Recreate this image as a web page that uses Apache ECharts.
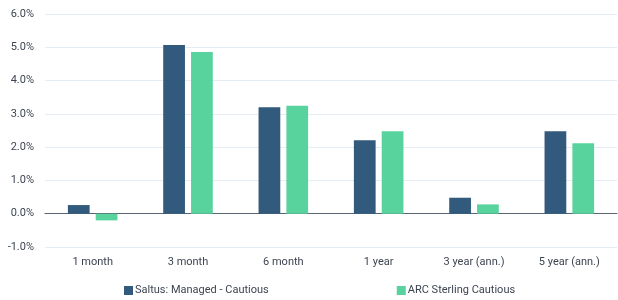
<!DOCTYPE html>
<html>
<head>
<meta charset="utf-8">
<script src="https://cdn.jsdelivr.net/npm/echarts@6/dist/echarts.min.js"></script>
<style>
  html, body { margin: 0; padding: 0; background: #fff; }
  #main { width: 618px; height: 300px; }
</style>
</head>
<body>
<div id="main"></div>
<script>
const categories = ['1 month', '3 month', '6 month', '1 year', '3 year (ann.)', '5 year (ann.)'];
const saltus = [0.26, 5.07, 3.20, 2.21, 0.48, 2.48];
const arc = [-0.20, 4.86, 3.24, 2.48, 0.28, 2.12];
const seriesNames = ['Saltus: Managed - Cautious', 'ARC Sterling Cautious'];

const chart = echarts.init(document.getElementById('main'));

const option = {
    animation: false,
    textStyle: { fontFamily: 'Roboto' },
    grid: { left: 45, right: 1, top: 14, bottom: 53 },
    legend: {
        data: seriesNames,
        top: 280,
        left: 119,
        itemWidth: 9,
        itemHeight: 9,
        itemGap: 128,
        icon: 'rect',
        textStyle: { color: '#3d4451', fontSize: 11, padding: [0, 0, 0, -3] }
    },
    xAxis: [{
        type: 'category',
        data: categories,
        axisLine: { show: false, onZero: false },
        axisTick: { show: false },
        axisLabel: { color: '#3d4451', fontSize: 11, margin: 10 }
    }, {
        type: 'category',
        data: categories,
        position: 'top',
        axisLine: { show: true, onZero: true, lineStyle: { color: '#5c6370', width: 1 } },
        axisTick: { show: false },
        axisLabel: { show: false }
    }],
    yAxis: {
        type: 'value',
        min: -1,
        max: 6,
        interval: 1,
        axisLine: { show: false },
        axisTick: { show: false },
        axisLabel: {
            color: '#3d4451',
            fontSize: 11,
            margin: 11,
            formatter: v => v.toFixed(1) + '%'
        },
        splitLine: { lineStyle: { color: '#e6ecf3', width: 1 } }
    },
    series: [{
        name: seriesNames[0],
        type: 'bar',
        data: saltus,
        barGap: '28%',
        barCategoryGap: '48%',
        itemStyle: { color: '#325a7c' }
    }, {
        name: seriesNames[1],
        type: 'bar',
        data: arc,
        itemStyle: { color: '#59d39e' }
    }]
};

chart.setOption(option);
</script>
</body>
</html>
